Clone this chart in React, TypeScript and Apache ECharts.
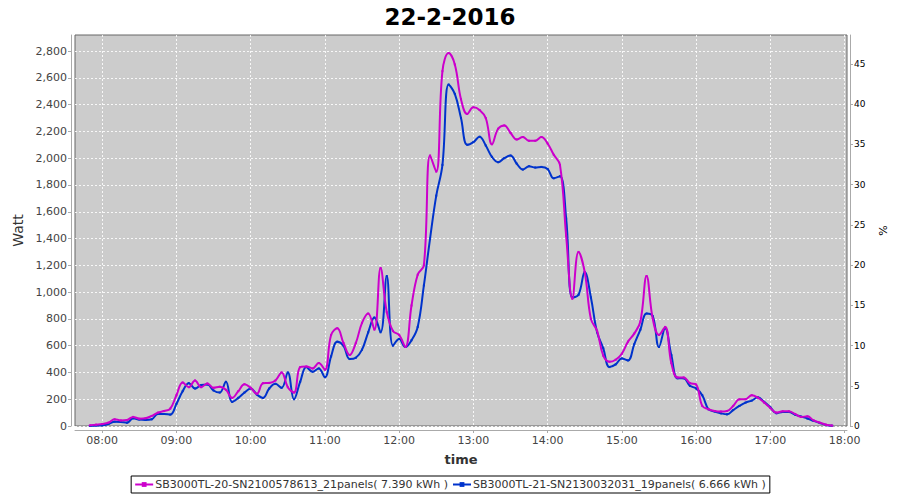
import { useEffect, useRef } from "react";
import * as echarts from "echarts";

const chartTitle = "22-2-2016";
const seriesNames = [
  "SB3000TL-20-SN2100578613_21panels( 7.390 kWh )",
  "SB3000TL-21-SN2130032031_19panels( 6.666 kWh )",
];
const seriesColors = ["#cc00cc", "#0033cc"];

// samples every 5 minutes from 07:50 to 17:50
const startMinute = 7 * 60 + 50;
const stepMinutes = 5;

const sb20Watt = [
  5, 10,
  15, 25, 50, 42, 45, 68, 55, 58, 75, 100, 112, 130,
  230, 325, 290, 340, 290, 318, 285, 293, 270, 210, 260, 312,
  285, 240, 320, 322, 340, 400, 290, 250, 440, 445, 430, 470,
  420, 680, 730, 620, 530, 620, 770, 840, 720, 1180, 850, 710,
  680, 590, 900, 1130, 1200, 2020, 1900, 2650, 2785, 2700, 2440, 2330,
  2380, 2360, 2300, 2104, 2220, 2245, 2190, 2140, 2158, 2130, 2130, 2158,
  2110, 2025, 1950, 1420, 950, 1300, 1150, 800, 710, 525, 480, 495,
  540, 630, 690, 780, 1120, 800, 680, 740, 470, 363, 363, 320,
  310, 150, 125, 112, 108, 112, 150, 199, 200, 230, 212, 175,
  135, 100, 110, 110, 90, 68, 72, 42, 25, 10, 3,
];

const sb21Watt = [
  0, 3,
  5, 15, 32, 30, 25, 57, 48, 45, 50, 90, 90, 85,
  165, 260, 320, 280, 306, 310, 265, 250, 330, 180, 210, 250,
  280, 235, 210, 280, 315, 285, 400, 200, 330, 440, 405, 430,
  365, 520, 630, 600, 500, 510, 570, 700, 810, 700, 1120, 600,
  650, 590, 640, 740, 1050, 1400, 1720, 1950, 2550, 2480, 2300, 2100,
  2120, 2160, 2095, 2010, 1970, 2000, 2020, 1960, 1915, 1940, 1930, 1935,
  1920, 1850, 1865, 1550, 960, 980, 1150, 960, 700, 580, 440, 460,
  505, 490, 610, 720, 840, 820, 590, 730, 530, 356, 356, 300,
  281, 230, 125, 108, 95, 87, 119, 150, 175, 190, 214, 180,
  140, 95, 105, 105, 85, 70, 56, 38, 22, 8, 2,
];

const wattTicks = [0, 200, 400, 600, 800, 1000, 1200, 1400, 1600, 1800, 2000, 2200, 2400, 2600, 2800];
const pctTicks = [0, 5, 10, 15, 20, 25, 30, 35, 40, 45];
const hourTicks = [8, 9, 10, 11, 12, 13, 14, 15, 16, 17, 18];

const wattMax = 2920;
const pctMax = 48.6;
const timeMin = 7 + 38 / 60;
const timeMax = 18 + 2 / 60;

const FONT = "DejaVu Sans";

function toPairs(values: number[]) {
  return values.map((v, i) => [(startMinute + i * stepMinutes) / 60, v]);
}

function hourLabel(v: number) {
  const h = Math.round(v);
  return (h < 10 ? "0" : "") + h + ":00";
}

export default function App() {
  const ref = useRef<HTMLDivElement>(null);

  useEffect(() => {
    if (!ref.current) return;
    const chart = echarts.init(ref.current, undefined, { renderer: "svg" });
    const gridLine = { show: true, lineStyle: { color: "rgba(255,255,255,0.85)", type: [2, 2], width: 1 } };
    chart.setOption({
      animation: false,
      backgroundColor: "#ffffff",
      title: {
        text: chartTitle,
        left: "center",
        top: 0,
        textStyle: { fontFamily: FONT, fontSize: 23, fontWeight: "bold", color: "#000" },
      },
      grid: {
        show: true,
        left: 75,
        right: 53,
        top: 35,
        bottom: 74,
        backgroundColor: "#cccccc",
        borderColor: "#666666",
        borderWidth: 1,
      },
      legend: {
        top: 476,
        left: "center",
        data: seriesNames,
        borderColor: "#000",
        borderWidth: 1,
        borderRadius: 0,
        padding: [3, 4, 3, 3],
        itemGap: 4,
        itemWidth: 18,
        itemHeight: 6,
        textStyle: { fontFamily: FONT, fontSize: 11, color: "#333", padding: [0, 0, 0, -3] },
      },
      xAxis: {
        type: "value",
        min: timeMin,
        max: timeMax,
        offset: 4,
        name: "time",
        nameLocation: "middle",
        nameGap: 23,
        nameTextStyle: { fontFamily: FONT, fontSize: 13, fontWeight: "bold", color: "#333" },
        axisLine: { show: true, onZero: false, lineStyle: { color: "#aaaaaa" } },
        axisTick: { show: true, length: 3, customValues: hourTicks, lineStyle: { color: "#aaaaaa" } },
        axisLabel: {
          customValues: hourTicks,
          formatter: hourLabel,
          fontFamily: FONT,
          fontSize: 11,
          color: "#444",
          margin: 5,
        },
        splitLine: gridLine,
      },
      yAxis: [
        {
          type: "value",
          min: 0,
          max: wattMax,
          offset: 4,
          position: "left",
          name: "Watt",
          nameLocation: "middle",
          nameRotate: 90,
          nameGap: 46,
          nameTextStyle: { fontFamily: FONT, fontSize: 14, color: "#333" },
          axisLine: { show: true, lineStyle: { color: "#aaaaaa" } },
          axisTick: { show: true, length: 3, customValues: wattTicks, lineStyle: { color: "#aaaaaa" } },
          axisLabel: {
            customValues: wattTicks,
            formatter: (v: number) => v.toLocaleString("en-US"),
            fontFamily: FONT,
            fontSize: 11,
            color: "#444",
            margin: 4,
          },
          splitLine: gridLine,
        },
        {
          type: "value",
          min: 0,
          max: pctMax,
          offset: 3,
          position: "right",
          name: "%",
          nameLocation: "middle",
          nameRotate: 90,
          nameGap: 28,
          nameTextStyle: { fontFamily: FONT, fontSize: 11, color: "#000" },
          axisLine: { show: true, lineStyle: { color: "#aaaaaa" } },
          axisTick: { show: true, length: 3, customValues: pctTicks, lineStyle: { color: "#aaaaaa" } },
          axisLabel: {
            customValues: pctTicks,
            fontFamily: FONT,
            fontSize: 9,
            color: "#000",
            margin: 4,
          },
          splitLine: { show: false },
        },
      ],
      series: [
        {
          name: seriesNames[0],
          type: "line",
          yAxisIndex: 0,
          data: toPairs(sb20Watt),
          smooth: 0.4,
          symbol: "rect",
          symbolSize: 2,
          showSymbol: true,
          z: 4,
          color: seriesColors[0],
          lineStyle: { width: 2, color: seriesColors[0] },
          itemStyle: { color: seriesColors[0] },
        },
        {
          name: seriesNames[1],
          type: "line",
          yAxisIndex: 0,
          data: toPairs(sb21Watt),
          smooth: 0.4,
          symbol: "rect",
          symbolSize: 2,
          showSymbol: true,
          z: 3,
          color: seriesColors[1],
          lineStyle: { width: 2, color: seriesColors[1] },
          itemStyle: { color: seriesColors[1] },
        },
      ],
    });
    return () => chart.dispose();
  }, []);

  return (
    <div
      ref={ref}
      style={{ position: "fixed", left: 0, top: 0, width: 900, height: 500 }}
    />
  );
}
